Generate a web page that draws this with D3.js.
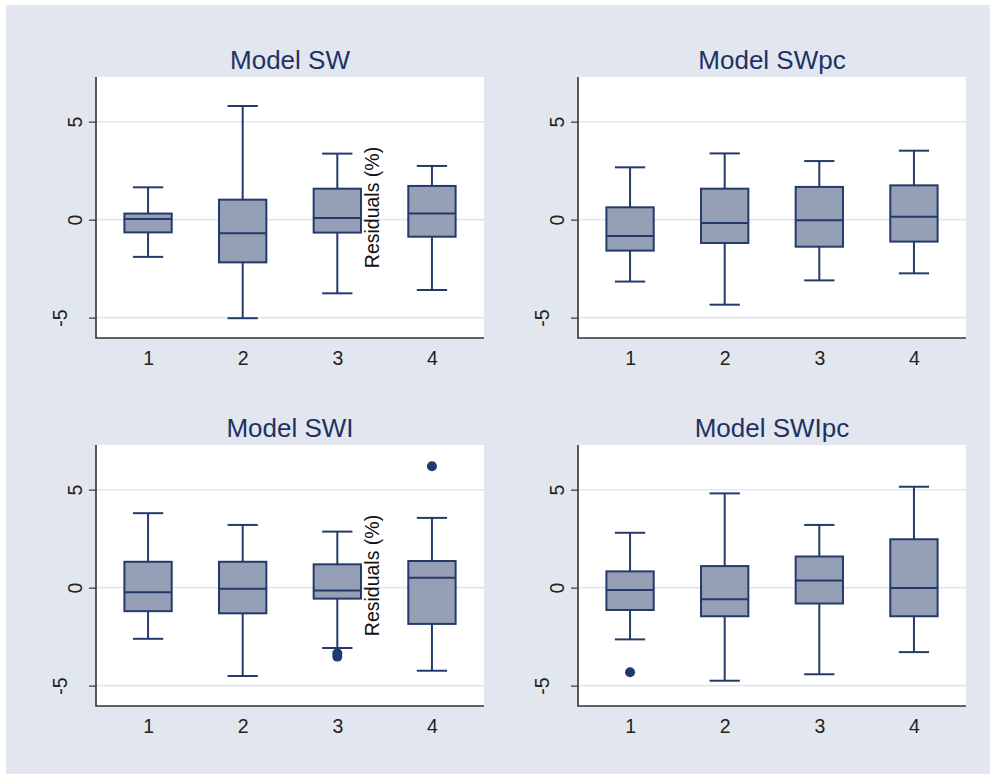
<!DOCTYPE html>
<html>
<head>
<meta charset="utf-8">
<script src="https://cdn.jsdelivr.net/npm/d3@7"></script>
<style>
  body { margin: 0; background: #fff; }
  text { font-family: "Liberation Sans", Arial, sans-serif; }
</style>
</head>
<body>
<script>
// categories on the x axis (the same for every panel)
var groups = ['1', '2', '3', '4'];

// panel titles
var titles = ['Model SW', 'Model SWpc', 'Model SWI', 'Model SWIpc'];

// y tick labels
var yTicks = [-5, 0, 5];

// box stats per panel: [lower whisker, q1, median, q3, upper whisker]
var statsSW    = [[-1.90, -0.65, 0.03, 0.31, 1.65], [-5.03, -2.18, -0.70, 1.02, 5.80],
                  [-3.76, -0.66, 0.09, 1.58, 3.37], [-3.59, -0.87, 0.31, 1.72, 2.74]];
var statsSWpc  = [[-3.16, -1.58, -0.83, 0.63, 2.67], [-4.34, -1.19, -0.17, 1.58, 3.38],
                  [-3.10, -1.38, -0.03, 1.67, 2.99], [-2.74, -1.12, 0.15, 1.75, 3.52]];
var statsSWI   = [[-2.61, -1.20, -0.24, 1.32, 3.80], [-4.51, -1.31, -0.05, 1.32, 3.20],
                  [-3.08, -0.56, -0.14, 1.19, 2.86], [-4.24, -1.85, 0.51, 1.36, 3.56]];
var statsSWIpc = [[-2.64, -1.14, -0.12, 0.83, 2.80], [-4.75, -1.46, -0.59, 1.10, 4.81],
                  [-4.42, -0.81, 0.37, 1.59, 3.20], [-3.29, -1.46, -0.02, 2.47, 5.15]];

// outside values per panel, [group, value]
var outSW    = [];
var outSWpc  = [];
var outSWI   = [['3', -3.35], ['3', -3.52], ['4', 6.20]];
var outSWIpc = [['1', -4.32]];

var panelStats = [statsSW, statsSWpc, statsSWI, statsSWIpc];
var panelOut = [outSW, outSWpc, outSWI, outSWIpc];

// page and panel geometry
var width = 990, height = 774;
var pw = 388, ph = 261;
var origins = [[96, 77], [578, 77], [96, 445], [578, 445]];

var navy = '#243a6b',
    boxFill = '#95a0b7',
    gridColor = '#e1e6f0',
    tickFont = 19.5;

var svg = d3.select('body').append('svg')
    .attr('width', width)
    .attr('height', height);

// outer bluish background
svg.append('rect')
    .attr('x', 6).attr('y', 5)
    .attr('width', width - 6).attr('height', height - 5)
    .attr('fill', '#e1e6ef');

// scales shared by the panels
var x = d3.scalePoint()
    .domain(groups)
    .range([pw * 0.55 / 4.1, pw * 3.55 / 4.1]);

var y = d3.scaleLinear()
    .domain([-6.04, 7.28])
    .range([ph, 0]);

var unit = x.step(); // one category in pixels
var boxW = unit * 0.5,
    capW = unit * 0.32;

titles.forEach(function(title, i) {
    var g = svg.append('g')
        .attr('transform', 'translate(' + origins[i][0] + ',' + origins[i][1] + ')');

    // white plot region
    g.append('rect')
        .attr('width', pw).attr('height', ph)
        .attr('fill', '#fff');

    // horizontal grid
    g.selectAll('.grid')
        .data(yTicks)
        .enter().append('line')
            .attr('x1', 0).attr('x2', pw)
            .attr('y1', y).attr('y2', y)
            .attr('stroke', gridColor)
            .attr('stroke-width', 1.6);

    // y axis, labels turned on their side (plain hyphen for minus)
    var yAxis = g.append('g')
        .call(d3.axisLeft(y).tickValues(yTicks).tickSize(7).tickFormat(function(d) { return String(d); }));
    yAxis.select('.domain').remove();
    yAxis.selectAll('line').attr('stroke', '#444').attr('stroke-width', 1.3);
    yAxis.selectAll('text')
        .attr('x', null).attr('dy', null)
        .attr('text-anchor', 'middle')
        .attr('font-size', tickFont)
        .attr('font-family', '"Liberation Sans", Arial, sans-serif')
        .attr('fill', '#222')
        .attr('transform', function(d) {
            var shift = d < 0 ? 29 : 14;
            return 'translate(' + (-shift) + ',0) rotate(-90)';
        });

    // x axis, no tick marks
    var xAxis = g.append('g')
        .attr('transform', 'translate(0,' + ph + ')')
        .call(d3.axisBottom(x).tickSize(0).tickPadding(13));
    xAxis.select('.domain').remove();
    xAxis.selectAll('text')
        .attr('font-size', tickFont)
        .attr('fill', '#222')
        .attr('font-family', '"Liberation Sans", Arial, sans-serif');

    // axis lines (left and bottom)
    g.append('path')
        .attr('d', 'M0,0V' + ph + 'H' + pw)
        .attr('fill', 'none')
        .attr('stroke', '#333')
        .attr('stroke-width', 1.6);

    // title
    g.append('text')
        .attr('x', pw / 2)
        .attr('y', -8)
        .attr('text-anchor', 'middle')
        .attr('font-size', 26)
        .attr('fill', '#1f3162')
        .text(title);

    // boxes
    var box = g.selectAll('.box')
        .data(panelStats[i])
        .enter().append('g')
            .attr('transform', function(d, j) { return 'translate(' + x(groups[j]) + ',0)'; });

    // whiskers
    box.append('line')
        .attr('x1', 0).attr('x2', 0)
        .attr('y1', function(d) { return y(d[4]); })
        .attr('y2', function(d) { return y(d[0]); })
        .attr('stroke', navy).attr('stroke-width', 2);

    // caps
    box.selectAll('.cap')
        .data(function(d) { return [d[0], d[4]]; })
        .enter().append('line')
            .attr('x1', -capW / 2).attr('x2', capW / 2)
            .attr('y1', y).attr('y2', y)
            .attr('stroke', navy).attr('stroke-width', 2);

    box.append('rect')
        .attr('x', -boxW / 2)
        .attr('width', boxW)
        .attr('y', function(d) { return y(d[3]); })
        .attr('height', function(d) { return y(d[1]) - y(d[3]); })
        .attr('fill', boxFill)
        .attr('stroke', navy)
        .attr('stroke-width', 2);

    // median
    box.append('line')
        .attr('x1', -boxW / 2).attr('x2', boxW / 2)
        .attr('y1', function(d) { return y(d[2]); })
        .attr('y2', function(d) { return y(d[2]); })
        .attr('stroke', navy).attr('stroke-width', 2);

    // outside values
    g.selectAll('.out')
        .data(panelOut[i])
        .enter().append('circle')
            .attr('cx', function(d) { return x(d[0]); })
            .attr('cy', function(d) { return y(d[1]); })
            .attr('r', 5)
            .attr('fill', '#1f3a6e');

    // stray y title that sits inside the left-hand plots
    if (i % 2 === 0) {
        g.append('text')
            .attr('transform', 'translate(283,' + (ph / 2) + ') rotate(-90)')
            .attr('text-anchor', 'middle')
            .attr('font-size', 19.5)
            .attr('fill', '#111')
            .text('Residuals (%)');
    }
});
</script>
</body>
</html>
